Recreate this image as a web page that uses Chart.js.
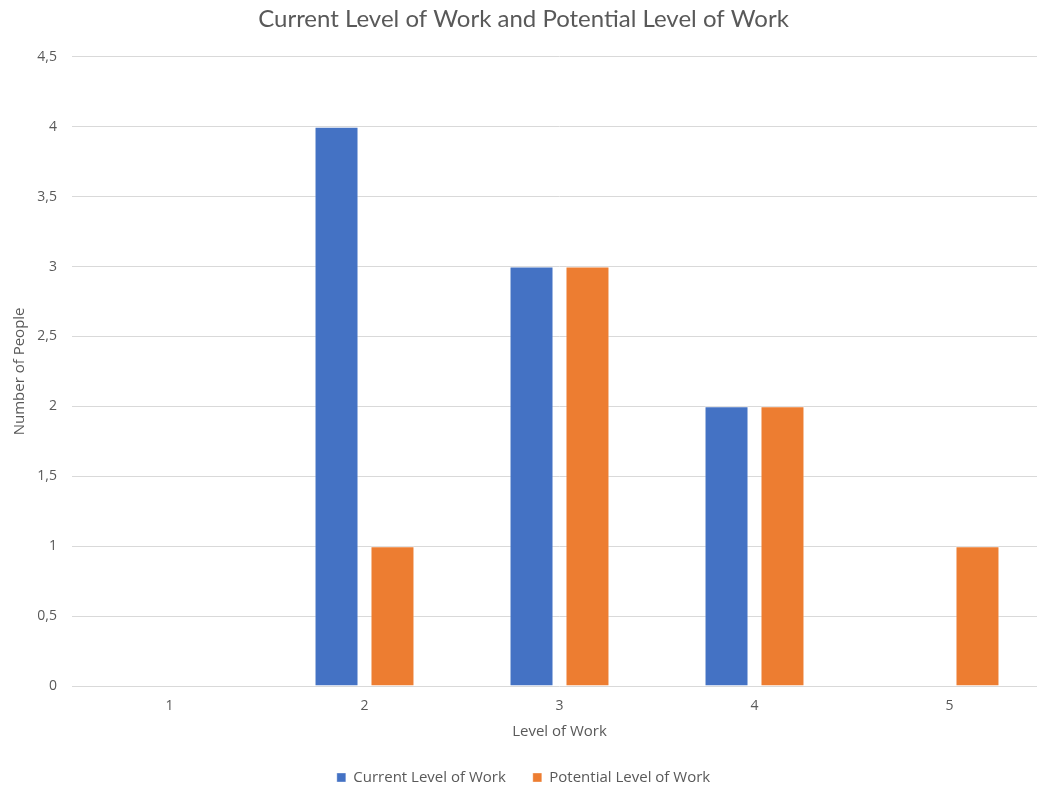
<!DOCTYPE html>
<html>
<head>
<meta charset="utf-8">
<script src="https://cdn.jsdelivr.net/npm/chart.js@4"></script>
<style>
  html, body { margin: 0; padding: 0; background: #fff; overflow: hidden; }
  #wrap { width: 1058px; height: 787px; }
</style>
</head>
<body>
<div id="wrap"><canvas id="myChart"></canvas></div>
<script>
const levels = ['1', '2', '3', '4', '5'];
const currentLevel = [0, 4, 3, 2, 0];
const potentialLevel = [0, 1, 3, 2, 1];

const grey = '#595959';
const tickFont = { family: 'Open Sans', size: 14 };
const labelFont = { family: 'Open Sans', size: 15 };

const ctx = document.getElementById('myChart');

new Chart(ctx, {
    type: 'bar',
    data: {
        labels: levels,
        datasets: [
            {
                label: 'Current Level of Work',
                data: currentLevel,
                backgroundColor: '#4472C4',
                borderColor: 'rgba(255,255,255,0.35)',
                borderWidth: 1,
                borderSkipped: 'start'
            },
            {
                label: 'Potential Level of Work',
                data: potentialLevel,
                backgroundColor: '#ED7D31',
                borderColor: 'rgba(255,255,255,0.35)',
                borderWidth: 1,
                borderSkipped: 'start'
            }
        ]
    },
    options: {
        responsive: true,
        maintainAspectRatio: false,
        animation: false,
        categoryPercentage: 0.574,
        barPercentage: 0.786,
        // the legend's wide item padding also pads it vertically, let it sit a bit lower
        layout: { padding: { left: 0, right: 11, top: 0, bottom: -8 } },
        plugins: {
            title: {
                display: true,
                text: 'Current Level of Work and Potential Level of Work',
                color: grey,
                font: { family: 'Lato', size: 24, weight: 'normal' },
                padding: { top: 5, bottom: 23 }
            },
            legend: {
                position: 'bottom',
                labels: {
                    color: grey,
                    font: labelFont,
                    boxWidth: 9,
                    boxHeight: 9,
                    padding: 27
                }
            },
            tooltip: { enabled: false }
        },
        scales: {
            x: {
                afterFit: scale => { scale.height = 57; },
                grid: { display: false },
                border: { display: false },
                ticks: { color: grey, font: tickFont, padding: 4 },
                title: {
                    display: true,
                    text: 'Level of Work',
                    color: grey,
                    font: labelFont,
                    padding: { top: 4, bottom: 2 }
                }
            },
            y: {
                min: 0,
                max: 4.5,
                afterFit: scale => { scale.width = 72; },
                grid: { color: '#d9d9d9', drawTicks: false },
                border: { display: false },
                ticks: {
                    stepSize: 0.5,
                    color: grey,
                    font: tickFont,
                    padding: 15,
                    callback: v => String(v).replace('.', ',')
                },
                title: {
                    display: true,
                    text: 'Number of People',
                    color: grey,
                    font: labelFont,
                    padding: { top: 11, bottom: 0 }
                }
            }
        }
    }
});
</script>
</body>
</html>
